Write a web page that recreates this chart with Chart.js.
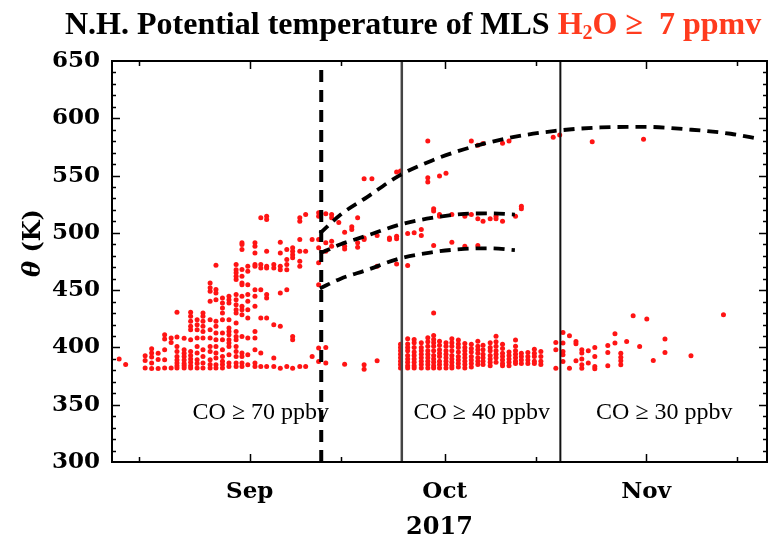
<!DOCTYPE html>
<html>
<head>
<meta charset="utf-8">
<script src="https://cdn.jsdelivr.net/npm/chart.js@4.4.1/dist/chart.umd.min.js"></script>
<style>
  html, body { margin: 0; padding: 0; background: #fff; }
  #wrap { width: 773px; height: 545px; }
</style>
</head>
<body>
<div id="wrap"><canvas id="chart" width="773" height="545"></canvas></div>
<script>
// x values are day of year 2017 (Sep 1 = 244)
const days = [
  223.9, 224.9, 227.9, 228.9, 229.9, 230.9, 231.9, 232.8, 233.9, 234.9,
  235.9, 236.8, 237.9, 238.8, 239.8, 240.8, 241.9, 242.8, 243.7, 244.8,
  245.7, 246.6, 247.7, 248.7, 249.7, 250.6, 251.7, 252.6, 253.6, 254.6,
  255.7, 256.6, 257.7, 258.6, 259.7, 260.6, 261.6, 262.8, 263.6, 265.5,
  266.6, 267.2, 268.3, 269.3, 270.4, 271.4, 272.3, 273.2, 274.2, 275.1,
  276.1, 277.1, 278.1, 279.1, 279.9, 281.0, 281.9, 282.9, 283.9, 284.9,
  285.8, 286.8, 287.8, 288.8, 290.7, 291.1, 291.7, 292.2, 293.2, 294.2,
  295.1, 296.1, 296.7, 297.1, 299.1, 300.2, 301.1, 302.0, 303.0, 304.0,
  304.6, 305.1, 306.1, 307.9, 311.9, 316.9
];

// potential temperature (K) of the MLS H2O >= 7 ppmv points, one list per day
const thetas = [
  [390], [385],
  [392.7, 388.6, 382],
  [398.9, 395.1, 391.6, 386.4, 381.6],
  [395, 389.5, 381.6],
  [411, 407.3, 398, 389.2, 382],
  [408.2, 404.4, 382],
  [430.6, 409, 400.9, 396.5, 392.1, 389, 386.4, 384, 382],
  [408, 398, 395, 392, 389, 386, 384, 382],
  [430.7, 427.2, 422.8, 418.4, 415.5, 406.7, 396.5, 393, 390, 387, 384, 382],
  [424.2, 419.9, 415.5, 408.2, 400.9, 395.1, 389.2, 386, 382],
  [430.1, 427.2, 422.8, 418.4, 414, 408.2, 398, 392.1, 386.3, 382],
  [456.3, 452, 449, 440.3, 424.2, 415.5, 408.2, 400.9, 396.5, 389.2, 385, 382],
  [471.7, 450.5, 447.6, 441.7, 422.8, 418.4, 412.6, 406.7, 400.9, 395.1, 390.7, 384.9, 382],
  [443.2, 438.8, 434.5, 430.1, 424.2, 412.6, 406.7, 398, 392.1, 388, 385, 382],
  [444.6, 441.7, 438.8, 424.2, 416.9, 414, 411.1, 406.7, 403.8, 400.9, 393.6, 386.3, 383.4],
  [472.3, 467.9, 465.1, 462.1, 459.2, 446.1, 441.7, 437.3, 432.9, 430, 421.3, 414, 409.6, 406.7, 400.9, 396.5, 392.1, 386.3, 383.4],
  [491.3, 489.8, 485.5, 468, 462.1, 456.3, 454.8, 444.6, 435.9, 432.9, 428.6, 409.6, 395.1, 392.1, 386.3, 383.4],
  [470.9, 466.5, 454.8, 446.1, 440.2, 432.9, 425.6, 408.2, 393.6, 384.8],
  [491.3, 488.4, 482.5, 472.3, 470.9, 450.4, 444.6, 435.9, 414, 408.2, 398, 386.3, 383.4],
  [513.2, 472.3, 469.4, 450.4, 425.6, 395.1, 383.4],
  [514.6, 511.7, 484, 470.9, 469.4, 446.1, 443.2, 425.6, 383.4],
  [472.3, 469.4, 419.9, 390.7, 383.4],
  [491.9, 482.5, 470.9, 467.9, 447.5, 418.4, 381.9],
  [485.5, 476.7, 472.3, 467.9, 450.4, 383.4],
  [486.9, 484, 481, 478.2, 409.6, 406.7, 381.9],
  [513.2, 510.2, 494.2, 484, 475.2, 470.9, 383.4],
  [516.1, 484, 383.4],
  [494.2, 392.1],
  [517.5, 514.6, 494.2, 486.9, 473.8, 454.8, 399.4, 387.7],
  [516.7, 491.3, 484, 400, 386.3],
  [516, 513.2, 492.7, 488.4],
  [509],
  [500.6, 488.4, 486, 385.4],
  [505.3, 503],
  [513.2, 491.3, 487.5],
  [547.3, 495.6, 494.2, 384.8, 381],
  [547.3],
  [497.7, 470.9, 388.3],
  [495.6, 494.2],
  [553.1, 497.1, 494.8, 472.9],
  [554, 402.7, 400, 397, 394, 391, 388, 385, 382],
  [499.4, 471.4, 407.5, 403, 400, 397, 393, 390, 387, 384, 382],
  [500, 407, 404, 400, 396, 393, 390, 387, 384, 382],
  [503, 497.7, 404, 400, 397, 394, 391, 388, 385, 382],
  [580.2, 548.2, 544.4, 408.4, 405, 401, 397, 394, 391, 388, 385, 382],
  [521, 519, 489, 430, 410.4, 407, 404, 401, 397, 393, 390, 387, 384, 382],
  [549.6, 516, 514.6, 405.5, 402, 398, 395, 392, 388, 385, 382],
  [552, 404, 401, 397, 394, 391, 388, 385, 382],
  [516, 491.9, 407.5, 404, 401, 397, 393, 390, 387, 384, 382],
  [406.4, 403, 400, 396, 392, 389, 386, 383],
  [514.6, 488.4, 403.5, 400, 397, 394, 391, 388, 385, 382],
  [580.2, 516, 402.7, 399, 396, 392, 389, 386, 383],
  [576.4, 512.3, 489, 405.5, 401, 398, 395, 391, 388, 385],
  [577.9, 510.2, 401.8, 398, 394, 391, 388, 385],
  [512.3, 404, 400, 397, 393, 390, 387, 384],
  [514.6, 512.3, 409.8, 405, 401, 397, 394, 391, 387],
  [578.2, 510.2, 402.7, 399, 395, 392, 389, 386, 384],
  [580.2, 396, 393, 390, 387, 384],
  [514.6, 406.4, 401, 397, 394, 391, 388, 386],
  [523.3, 521, 395, 392, 389, 386],
  [395.5, 392, 389, 386],
  [398.4, 395, 392, 388, 386],
  [396.5, 392, 388, 385],
  [583.5],
  [404.4, 398, 381.9],
  [585.5],
  [413.1, 403.8, 396.5, 393.6, 387.7],
  [410.2, 381.9],
  [405.2, 403.2, 388.3],
  [398, 395.1, 389.8, 384.8, 381.9],
  [397.1, 386.3],
  [579.5],
  [400, 392.1, 383.4, 381.3],
  [401.7, 395.6, 384],
  [412, 403.8],
  [395, 391.5, 388.3, 384.8],
  [405.2],
  [427.7],
  [400.9],
  [581.6],
  [424.8],
  [388.6],
  [407.3, 395.6],
  [392.7],
  [428.6]
];

// dashed curves
const upperCurveDays = [254.8, 258, 262, 267, 272, 277, 284, 291, 298, 305, 312, 318, 322.5];
const upperCurveTheta = [499.5, 516, 531, 550, 563, 573, 583, 589, 592, 592.5, 590, 586.5, 582];
const middleCurveDays = [254.8, 258, 262, 267, 272, 277, 281, 284.8];
const middleCurveTheta = [482, 490, 497.5, 507, 513, 516.5, 517, 516];
const lowerCurveDays = [254.8, 258, 262, 267, 272, 277, 281, 284.8];
const lowerCurveTheta = [451.5, 460, 467.5, 477.5, 483, 486, 486.5, 485];

// vertical separators
const dashedDay = 255.0;
const solidDays = [267.4, 291.8];

// axes
const monthTicks = [244, 274, 305];
const monthLabels = ['Sep', 'Oct', 'Nov'];
const midMonthTicks = [227, 258, 288, 319];

const regionLabels = ['CO \u2265 70 ppbv', 'CO \u2265 40 ppbv', 'CO \u2265 30 ppbv'];
const regionLabelDays = [245.7, 279.7, 307.8];
const regionLabelTheta = 343;

const RED = '#ff1414';
const TITLE_RED = '#ff3b1e';

const points = [];
days.forEach((d, i) => thetas[i].forEach(t => points.push({x: d, y: t})));

const toXY = (xs, ys) => xs.map((x, i) => ({x: x, y: ys[i]}));

const curveStyle = {
    type: 'line',
    showLine: true,
    pointRadius: 0,
    borderColor: '#000',
    borderWidth: 3.8,
    borderDash: [11, 7],
    cubicInterpolationMode: 'monotone',
    fill: false,
    order: 1,
};

// frame with inward ticks on all four sides
const frameTicks = {
    id: 'frameTicks',
    afterDatasetsDraw(chart) {
        const {ctx, chartArea: a, scales: {x, y}} = chart;
        ctx.save();
        ctx.strokeStyle = '#000';
        ctx.lineWidth = 2;
        ctx.strokeRect(a.left, a.top, a.right - a.left, a.bottom - a.top);

        ctx.lineWidth = 1.5;
        ctx.beginPath();
        const xTick = (d, len) => {
            const px = Math.round(x.getPixelForValue(d)) + 0.5;
            ctx.moveTo(px, a.bottom); ctx.lineTo(px, a.bottom - len);
            ctx.moveTo(px, a.top); ctx.lineTo(px, a.top + len);
        };
        monthTicks.forEach(d => xTick(d, 8));
        midMonthTicks.forEach(d => xTick(d, 5));
        for (let t = 310; t < 650; t += 10) {
            const len = t % 50 === 0 ? 8 : 4;
            const py = Math.round(y.getPixelForValue(t)) + 0.5;
            ctx.moveTo(a.left, py); ctx.lineTo(a.left + len, py);
            ctx.moveTo(a.right, py); ctx.lineTo(a.right - len, py);
        }
        ctx.stroke();

        // region labels
        ctx.fillStyle = '#000';
        ctx.font = '24px "Liberation Serif"';
        ctx.textAlign = 'center';
        ctx.textBaseline = 'middle';
        regionLabels.forEach((s, i) => {
            ctx.fillText(s, x.getPixelForValue(regionLabelDays[i]), y.getPixelForValue(regionLabelTheta));
        });
        ctx.restore();
    }
};

// two-colour title and the y axis title
const titles = {
    id: 'titles',
    afterDraw(chart) {
        const ctx = chart.ctx;
        ctx.save();
        ctx.textBaseline = 'alphabetic';
        ctx.textAlign = 'left';
        const big = 'bold 32px "Liberation Serif"';
        const small = 'bold 20px "Liberation Serif"';
        const parts = [
            {t: 'N.H. Potential temperature of MLS ', font: big, color: '#000', dy: 0},
            {t: 'H', font: big, color: TITLE_RED, dy: 0},
            {t: '2', font: small, color: TITLE_RED, dy: 5},
            {t: 'O \u2265  7 ppmv', font: big, color: TITLE_RED, dy: 0},
        ];
        let px = 65;
        parts.forEach(p => {
            ctx.font = p.font;
            ctx.fillStyle = p.color;
            ctx.fillText(p.t, px, 34 + p.dy);
            px += ctx.measureText(p.t).width;
        });

        ctx.translate(34, 243);
        ctx.rotate(-Math.PI / 2);
        ctx.fillStyle = '#000';
        ctx.textBaseline = 'middle';
        const a = '\u03b8';
        const b = ' (K)';
        ctx.font = 'bold 24px "DejaVu Serif"';
        const wb = ctx.measureText(b).width;
        ctx.font = 'italic bold 24px "DejaVu Serif"';
        const wa = ctx.measureText(a).width;
        const sx = -(wa + wb) / 2;
        ctx.fillText(a, sx, 0);
        ctx.font = 'bold 24px "DejaVu Serif"';
        ctx.fillText(b, sx + wa, 0);
        ctx.restore();
    }
};

const ctx = document.getElementById('chart').getContext('2d');

const chart = new Chart(ctx, {
    type: 'scatter',
    data: {
        datasets: [
            {
                label: 'H2O points',
                data: points,
                pointRadius: 2.5,
                pointBackgroundColor: RED,
                pointBorderWidth: 0,
                order: 10,
            },
            Object.assign({data: toXY(upperCurveDays, upperCurveTheta)}, curveStyle),
            Object.assign({data: toXY(middleCurveDays, middleCurveTheta)}, curveStyle),
            Object.assign({data: toXY(lowerCurveDays, lowerCurveTheta)}, curveStyle),
            {
                type: 'line',
                data: [{x: dashedDay, y: 300}, {x: dashedDay, y: 650}],
                borderColor: '#000',
                borderWidth: 4,
                borderDash: [12, 8],
                pointRadius: 0,
                order: 2,
            },
            {
                type: 'line',
                data: [{x: solidDays[0], y: 300}, {x: solidDays[0], y: 650}],
                borderColor: '#444',
                borderWidth: 2.5,
                pointRadius: 0,
                order: 2,
            },
            {
                type: 'line',
                data: [{x: solidDays[1], y: 300}, {x: solidDays[1], y: 650}],
                borderColor: '#111',
                borderWidth: 2,
                pointRadius: 0,
                order: 2,
            },
        ],
    },
    options: {
        responsive: false,
        animation: false,
        devicePixelRatio: 1,
        layout: { padding: { left: 0, right: 6, top: 61, bottom: 0 } },
        plugins: {
            legend: { display: false },
            tooltip: { enabled: false },
            title: { display: false },
        },
        scales: {
            x: {
                type: 'linear',
                min: 222.8,
                max: 323.6,
                grid: { display: false },
                border: { display: false },
                afterBuildTicks: (scale) => {
                    scale.ticks = monthTicks.map(v => ({value: v}));
                },
                afterFit: (scale) => { scale.height = 83; },
                ticks: {
                    autoSkip: false,
                    maxRotation: 0,
                    padding: 8,
                    color: '#000',
                    font: { family: 'DejaVu Serif', size: 23, weight: 'bold' },
                    callback: (v) => monthLabels[monthTicks.indexOf(v)] || '',
                },
                title: {
                    display: true,
                    text: '2017',
                    color: '#000',
                    font: { family: 'DejaVu Serif', size: 24, weight: 'bold' },
                    padding: { top: 0, bottom: 3 },
                },
            },
            y: {
                min: 300,
                max: 650,
                grid: { display: false },
                border: { display: false },
                afterFit: (scale) => { scale.width = 112; },
                ticks: {
                    stepSize: 50,
                    padding: 4,
                    color: '#000',
                    font: { family: 'DejaVu Serif', size: 23, weight: 'bold' },
                },
            },
        },
    },
    plugins: [frameTicks, titles],
});
</script>
</body>
</html>
